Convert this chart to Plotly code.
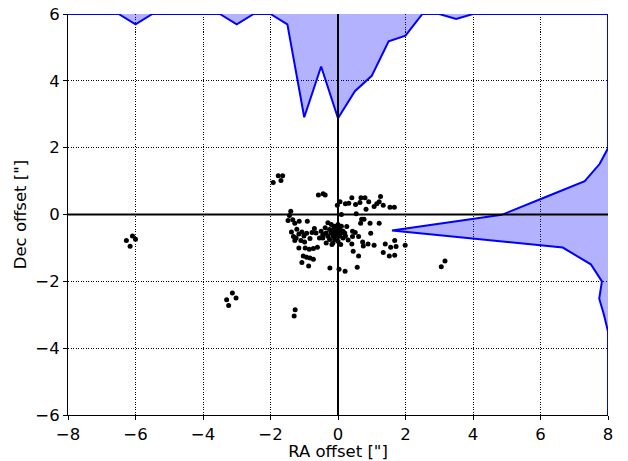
import plotly.graph_objects as go

# Scatter data (arcsec offsets)
ra = [-1.92, -1.77, -1.64, -1.69,
      -0.58, -0.44, -0.38,
      -0.02, 0.06, 0.22, 0.32, 0.41, 0.52, 0.65, 0.68, 0.80, 0.83, 0.91, 1.07, 1.15, 1.22, 1.26, 1.34, 1.54, 1.67,
      0.54, 0.10, 0.70, 0.77, 0.95, 1.22,
      -1.40, -1.44, -1.48, -1.34, -1.28, -1.15, -0.91, -1.38, -1.32, -1.28, -1.22, -1.16, -1.07, -1.01, -0.93, -0.77,
      -1.24, -1.10, -0.99, -0.83, -1.16, -0.97, -0.85, -0.73, -0.61, -1.03, -0.93, -0.83, -0.73, -1.07, -0.87,
      -0.24, 0.03, 0.21, 0.57,
      -0.30, -0.20, -0.10, 0.00, 0.10, -0.25, -0.15, -0.05, 0.05, 0.15, -0.35, -0.20, -0.10, 0.00, 0.10, 0.20,
      -0.30, -0.15, -0.05, 0.05, 0.15, -0.25, -0.10, 0.00, -0.45, -0.50, -0.38, -0.15, 0.08, -0.35, -0.65, -0.55,
      -0.70, -0.44, -0.45, -0.18,
      0.26, 0.43, 0.51, 0.61, 0.43, 0.41, 0.45, 0.61, 0.73, 0.75, 0.89, 0.97, 1.07, 1.40, 1.34, 1.52, 1.56, 1.68,
      1.72, 1.68, 1.99, 0.67, 0.22, 0.30,
      3.06, 3.17, -1.27, -1.30,
      -6.27, -6.09, -6.00, -6.16, -3.13, -3.30, -3.02, -3.24]
dec = [0.96, 1.16, 1.16, 1.02,
       0.58, 0.62, 0.58,
       0.28, 0.38, 0.32, 0.34, 0.50, 0.30, 0.36, 0.50, 0.50, 0.16, 0.38, 0.24, 0.32, 0.38, 0.54, 0.28, 0.22, 0.22,
       0.02, 0.00, -0.14, -0.14, -0.26, -0.26,
       0.10, -0.03, -0.18, -0.16, -0.26, -0.20, -0.20, -0.52, -0.66, -0.78, -0.44, -0.58, -0.52, -0.64, -0.56, -0.54,
       -0.70, -0.78, -0.82, -0.72, -1.00, -1.00, -1.04, -1.02, -0.98, -1.24, -1.28, -1.30, -1.34, -1.44, -1.54,
       -1.60, -1.64, -1.70, -1.58,
       -0.25, -0.30, -0.35, -0.30, -0.35, -0.45, -0.45, -0.45, -0.45, -0.50, -0.55, -0.55, -0.55, -0.55, -0.55, -0.55,
       -0.65, -0.65, -0.65, -0.65, -0.70, -0.75, -0.75, -0.80, -0.62, -0.50, -0.40, -0.85, -0.90, -0.85, -0.55, -0.70,
       -0.42, -0.60, -0.70, -0.90,
       -0.36, -0.50, -0.54, -0.66, -0.66, -0.88, -1.10, -1.24, -0.82, -0.94, -0.88, -0.56, -0.92, -0.88, -1.14, -1.24,
       -0.98, -0.78, -0.96, -1.22, -0.92, -0.26, -0.64, -0.76,
       -1.56, -1.39, -2.85, -3.04,
       -0.78, -0.64, -0.74, -0.95, -2.35, -2.55, -2.50, -2.72]

# Top marginal histogram (RA bin edges, height measured down from Dec=6)
top_x = [-8.0, -6.5, -6.0, -5.5, -3.5, -3.0, -2.5, -2.0, -1.5, -1.0, -0.5, 0.0, 0.5, 1.0, 1.5, 2.0,
         2.5, 3.0, 3.5, 4.0, 8.0]
top_h = [0, 0, 0.31, 0, 0, 0.31, 0, 0, 0.31, 3.09, 1.57, 3.12, 2.31, 1.85, 0.82, 0.65,
         0, 0, 0.15, 0, 0]

# Right marginal histogram (Dec bins, width measured left from RA=8)
right_y = [6.0, 1.98, 1.51, 1.00, 0.50, -0.01, -0.48, -0.99, -1.49, -2.00, -2.52, -3.00, -3.50, -6.0]
right_w = [0, 0, 0.25, 0.69, 1.90, 3.15, 6.40, 1.34, 0.51, 0.18, 0.26, 0.12, 0, 0]

X_RANGE = [-8, 8]
Y_RANGE = [-6, 6]
x_ticks = [-8, -6, -4, -2, 0, 2, 4, 6, 8]
y_ticks = [-6, -4, -2, 0, 2, 4, 6]

fill_col = "rgba(0,0,255,0.3)"
line_col = "#0000ff"

fig = go.Figure()

# top histogram polygon
fig.add_trace(go.Scatter(
    x=top_x, y=[Y_RANGE[1] - h for h in top_h],
    mode="lines", line=dict(color=line_col, width=2),
    fill="toself", fillcolor=fill_col, hoverinfo="skip", showlegend=False))

# right histogram polygon
fig.add_trace(go.Scatter(
    x=[X_RANGE[1] - w for w in right_w], y=right_y,
    mode="lines", line=dict(color=line_col, width=2),
    fill="toself", fillcolor=fill_col, hoverinfo="skip", showlegend=False))

# zero lines
fig.add_trace(go.Scatter(x=X_RANGE, y=[0, 0], mode="lines",
                         line=dict(color="black", width=2), hoverinfo="skip", showlegend=False))
fig.add_trace(go.Scatter(x=[0, 0], y=Y_RANGE, mode="lines",
                         line=dict(color="black", width=2), hoverinfo="skip", showlegend=False))

# points
fig.add_trace(go.Scatter(x=ra, y=dec, mode="markers",
                         marker=dict(color="black", size=5, line=dict(width=0)),
                         showlegend=False))

font = dict(family="DejaVu Sans", size=16.5, color="black")

axis_common = dict(
    showgrid=True, gridcolor="black", gridwidth=1, griddash="1px,1.5px",
    zeroline=False, showline=True, linecolor="black", linewidth=1,
    ticks="outside", ticklen=4, tickwidth=1, tickcolor="black",
    tickfont=font, mirror=False, automargin=False, ticklabeloverflow="allow",
)

fig.update_layout(
    width=628, height=461,
    margin=dict(l=68, r=20, t=14, b=46),
    paper_bgcolor="white", plot_bgcolor="white",
    font=font,
    xaxis=dict(range=X_RANGE, tickvals=x_ticks, title=dict(text='RA offset ["]', font=font, standoff=3),
               **axis_common),
    yaxis=dict(range=Y_RANGE, tickvals=y_ticks, title=dict(text='Dec offset ["]', font=font, standoff=4),
               **axis_common),
)

# remove the default page margin so the 628x461 figure fills the window exactly
fig.write_html("out.html", config={"displayModeBar": False},
               post_script="document.body.style.margin='0px';document.body.style.overflow='hidden';")
